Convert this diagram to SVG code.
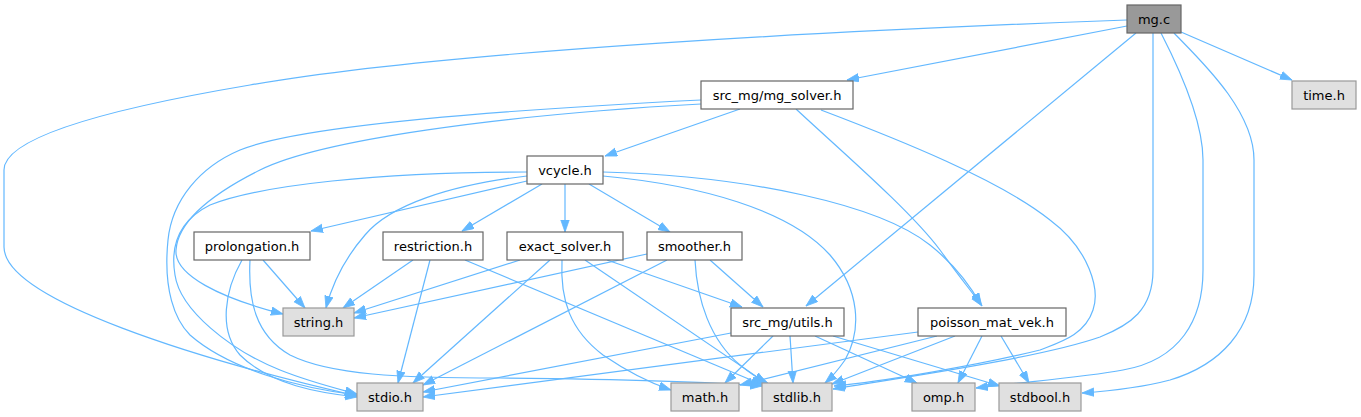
<svg xmlns="http://www.w3.org/2000/svg" width="1361" height="417" viewBox="0 0 1361 417">
<style>
.n rect{fill:#ffffff;stroke:#666666;stroke-width:1.2}
.s rect{fill:#e0e0e0;stroke:#999999;stroke-width:1.2}
.r rect{fill:#999999;stroke:#666666;stroke-width:1.2}
text{font-family:"DejaVu Sans",sans-serif;font-size:13px;fill:#000;text-anchor:middle}
#edges path{fill:none;stroke:#63b8ff;stroke-width:1.2;marker-end:url(#ah)}
</style>
<defs>
<marker id="ah" markerUnits="userSpaceOnUse" markerWidth="14" markerHeight="10" refX="12" refY="4.5" orient="auto">
<path d="M0,0.3 L12,4.5 L0,8.7 z" fill="#63b8ff" stroke="#63b8ff" stroke-width="0.8"/>
</marker>
</defs>
<rect width="1361" height="417" fill="#ffffff"/>
<g id="edges">
<path d="M1127,20 C850,30 450,50 250,85 C90,112 4,140 4,170 L4,247 C4,300 200,360 357,396"/>
<path d="M1127,26 L847,80"/>
<path d="M1181,32 L1292,80"/>
<path d="M1136,33 L806,306"/>
<path d="M1153,33 L1153,270 C1153,310 1130,325 1100,337 C1040,358 900,378 833,389"/>
<path d="M1161,33 C1180,70 1203,120 1203,160 L1203,270 C1203,320 1180,360 1123,370 C1080,378 1020,382 976,388"/>
<path d="M1174,33 C1200,60 1254,110 1254,160 L1254,275 C1254,330 1220,365 1170,380 C1140,388 1110,391 1082,393"/>
<path d="M740,109 L605,156"/>
<path d="M796,109 C840,150 910,210 940,250 C958,275 972,292 982,306"/>
<path d="M821,110 C900,140 1000,180 1050,220 C1090,250 1100,290 1093,310 C1085,335 1060,342 1040,350 C980,365 880,382 834,386"/>
<path d="M701,100 C500,110 300,125 240,150 C200,167 172,200 168,240 C163,290 175,320 190,335 C230,370 300,388 357,395"/>
<path d="M701,104 C500,115 320,140 260,170 C210,195 178,222 176,250 C174,275 220,298 283,314"/>
<path d="M527,172 C380,172 260,185 210,205 C180,220 170,245 175,275 C180,310 230,350 280,370 C310,382 335,388 357,394"/>
<path d="M527,181 L311,231"/>
<path d="M527,176 C450,185 390,205 365,235 C345,258 332,285 326,308"/>
<path d="M542,184 L462,231"/>
<path d="M565,184 L565,232"/>
<path d="M589,184 L670,232"/>
<path d="M603,176 C700,185 790,210 830,255 C860,290 862,330 845,360 C838,370 832,377 825,383"/>
<path d="M603,172 C750,176 880,205 930,245 C955,265 970,285 981,305"/>
<path d="M263,260 L305,308"/>
<path d="M242,260 C225,290 218,330 240,355 C270,385 320,393 357,397"/>
<path d="M250,260 C248,300 255,335 290,355 C330,375 400,378 500,378 C600,379 700,381 762,386"/>
<path d="M413,260 L343,308"/>
<path d="M430,260 L398,383"/>
<path d="M465,260 L763,385"/>
<path d="M520,260 L354,313"/>
<path d="M550,260 L413,383"/>
<path d="M562,260 C560,300 570,330 603,355 C625,370 650,383 671,390"/>
<path d="M585,260 L766,383"/>
<path d="M607,260 L742,307"/>
<path d="M647,254 L354,318"/>
<path d="M667,260 L423,385"/>
<path d="M695,260 C697,300 710,340 740,365 C750,373 760,380 769,384"/>
<path d="M710,260 L763,307"/>
<path d="M731,333 L423,392"/>
<path d="M773,336 L725,383"/>
<path d="M790,336 L793,383"/>
<path d="M815,336 L917,383"/>
<path d="M833,336 L1000,386"/>
<path d="M918,332 L423,397"/>
<path d="M937,336 L740,385"/>
<path d="M955,336 L832,384"/>
<path d="M982,336 L958,383"/>
<path d="M1001,336 L1029,383"/>
</g>
<g id="node_mg_c" class="r"><rect x="1127" y="5" width="54" height="28"/><text x="1154" y="24">mg.c</text></g>
<g id="node_time_h" class="s"><rect x="1292" y="81" width="64" height="28"/><text x="1324" y="100">time.h</text></g>
<g id="node_mg_solver_h" class="n"><rect x="701" y="81" width="152" height="28"/><text x="777" y="100">src_mg/mg_solver.h</text></g>
<g id="node_vcycle_h" class="n"><rect x="527" y="156" width="76" height="28"/><text x="565" y="175">vcycle.h</text></g>
<g id="node_prolongation_h" class="n"><rect x="194" y="232" width="116" height="28"/><text x="252" y="251">prolongation.h</text></g>
<g id="node_restriction_h" class="n"><rect x="383" y="232" width="100" height="28"/><text x="433" y="251">restriction.h</text></g>
<g id="node_exact_solver_h" class="n"><rect x="507" y="232" width="116" height="28"/><text x="565" y="251">exact_solver.h</text></g>
<g id="node_smoother_h" class="n"><rect x="647" y="232" width="95" height="28"/><text x="694.5" y="251">smoother.h</text></g>
<g id="node_string_h" class="s"><rect x="283" y="308" width="71" height="28"/><text x="318.5" y="327">string.h</text></g>
<g id="node_utils_h" class="n"><rect x="731" y="308" width="113" height="28"/><text x="787.5" y="327">src_mg/utils.h</text></g>
<g id="node_poisson_mat_vek_h" class="n"><rect x="918" y="308" width="148" height="28"/><text x="992" y="327">poisson_mat_vek.h</text></g>
<g id="node_stdio_h" class="s"><rect x="357" y="383" width="66" height="28"/><text x="390" y="402">stdio.h</text></g>
<g id="node_math_h" class="s"><rect x="671" y="383" width="68" height="28"/><text x="705" y="402">math.h</text></g>
<g id="node_stdlib_h" class="s"><rect x="762" y="383" width="70" height="28"/><text x="797" y="402">stdlib.h</text></g>
<g id="node_omp_h" class="s"><rect x="912" y="383" width="63" height="28"/><text x="943.5" y="402">omp.h</text></g>
<g id="node_stdbool_h" class="s"><rect x="999" y="383" width="82" height="28"/><text x="1040" y="402">stdbool.h</text></g>
</svg>
